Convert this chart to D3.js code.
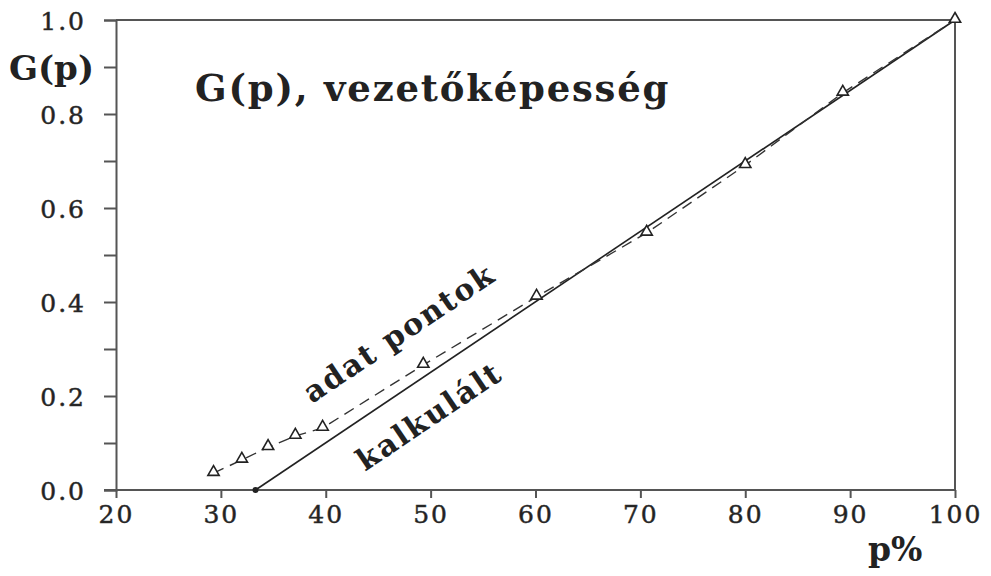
<!DOCTYPE html>
<html>
<head>
<meta charset="utf-8">
<script src="https://cdn.jsdelivr.net/npm/d3@7"></script>
<style>
  html, body { margin: 0; padding: 0; background: #fff; }
  svg { display: block; }
  text { font-family: "DejaVu Serif", "Liberation Serif", serif; fill: #222; }
</style>
</head>
<body>
<svg id="chart" width="991" height="576"></svg>
<script>
// Measured conductivity data (p in %, G normalised)
const pData = [29.3, 32.0, 34.5, 37.1, 39.7, 49.3, 60.1, 70.6, 80.0, 89.3, 100];
const gData = [0.036, 0.064, 0.091, 0.115, 0.132, 0.266, 0.411, 0.547, 0.691, 0.845, 1.0];

// Calculated curve endpoints: percolation threshold to full conductance
const pCalc = [33.3, 100];
const gCalc = [0.0, 1.0];

const xTicks = [20, 30, 40, 50, 60, 70, 80, 90, 100];
const yTicks = [0.0, 0.2, 0.4, 0.6, 0.8, 1.0];
const yMinorTicks = [0.1, 0.3, 0.5, 0.7, 0.9];

const svg = d3.select("#chart");
const plotLeft = 116, plotRight = 955, plotTop = 20, plotBottom = 490;

const x = d3.scaleLinear().domain([20, 100]).range([plotLeft, plotRight]);
const y = d3.scaleLinear().domain([0, 1]).range([plotBottom, plotTop]);

const axisColor = "#555";

// Frame: top and right borders
svg.append("line").attr("x1", plotLeft).attr("x2", plotRight).attr("y1", plotTop).attr("y2", plotTop)
  .attr("stroke", axisColor).attr("stroke-width", 2);
svg.append("line").attr("x1", plotRight).attr("x2", plotRight).attr("y1", plotTop).attr("y2", plotBottom)
  .attr("stroke", axisColor).attr("stroke-width", 2);

// Y axis
const yAxis = svg.append("g").attr("transform", `translate(${plotLeft},0)`)
  .call(d3.axisLeft(y).tickValues(yTicks).tickFormat(d3.format(".1f")).tickSize(12).tickPadding(18));
svg.append("g").attr("transform", `translate(${plotLeft},0)`)
  .call(d3.axisLeft(y).tickValues(yMinorTicks).tickFormat("").tickSize(12))
  .select(".domain").remove();

// X axis
const xAxis = svg.append("g").attr("transform", `translate(0,${plotBottom})`)
  .call(d3.axisBottom(x).tickValues(xTicks).tickFormat(d3.format("d")).tickSize(8).tickPadding(7));

svg.selectAll(".domain").attr("stroke", axisColor).attr("stroke-width", 2);
svg.selectAll(".tick line").attr("stroke", axisColor).attr("stroke-width", 2);
svg.selectAll(".tick text")
  .attr("font-family", "DejaVu Serif, serif")
  .attr("font-size", 25)
  .attr("letter-spacing", 2)
  .attr("fill", "#333")
  .attr("stroke", "#333").attr("stroke-width", 0.5);
xAxis.select(".domain").attr("d", `M${plotLeft - 12},0H${plotRight}`);
yAxis.selectAll(".tick text").attr("dy", "0.36em");

// Calculated line
const line = d3.line().x(d => x(d[0])).y(d => y(d[1]));
svg.append("path")
  .datum(d3.zip(pCalc, gCalc))
  .attr("d", line)
  .attr("fill", "none").attr("stroke", "#222").attr("stroke-width", 1.6);
svg.append("circle").attr("cx", x(pCalc[0])).attr("cy", y(gCalc[0])).attr("r", 3).attr("fill", "#222");

// Measured data, dashed line
const pts = d3.zip(pData, gData);
svg.append("path")
  .datum(pts)
  .attr("d", line)
  .attr("fill", "none").attr("stroke", "#333").attr("stroke-width", 1.4)
  .attr("stroke-dasharray", "11,7");

const tri = d3.symbol().type(d3.symbolTriangle).size(55);
svg.selectAll(".pt").data(pts).join("path")
  .attr("class", "pt")
  .attr("d", tri)
  .attr("transform", d => `translate(${x(d[0])},${y(d[1]) - 1})`)
  .attr("fill", "#fff").attr("stroke", "#222").attr("stroke-width", 1.6);

// Labels
svg.append("text").attr("x", 9).attr("y", 80)
  .attr("font-size", 34).attr("font-weight", "bold").text("G(p)");
svg.append("text").attr("x", 195).attr("y", 101)
  .attr("font-size", 37).attr("font-weight", "bold").attr("letter-spacing", 1.8)
  .text("G(p), vezetőképesség");
svg.append("text").attr("x", 868).attr("y", 561)
  .attr("font-size", 33).attr("font-weight", "bold").text("p%");

const angle = -Math.atan((y(0) - y(1)) / (x(100) - x(pCalc[0]))) * 180 / Math.PI;
svg.append("text")
  .attr("transform", `translate(399,333) rotate(${angle})`)
  .attr("text-anchor", "middle").attr("dy", "0.35em")
  .attr("font-size", 30).attr("font-weight", "bold").attr("letter-spacing", 2)
  .text("adat pontok");
svg.append("text")
  .attr("transform", `translate(429,416) rotate(${angle})`)
  .attr("text-anchor", "middle").attr("dy", "0.35em")
  .attr("font-size", 30).attr("font-weight", "bold").attr("letter-spacing", 2)
  .text("kalkulált");
</script>
</body>
</html>
